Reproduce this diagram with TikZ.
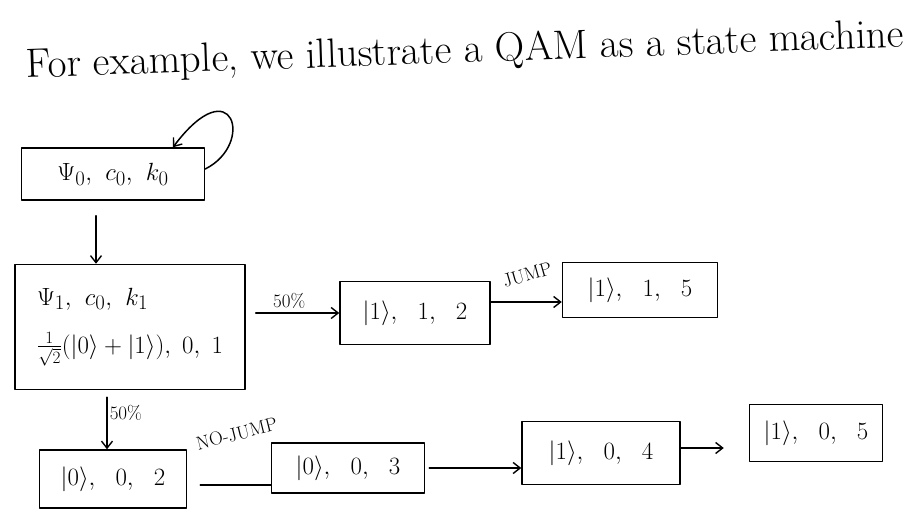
\documentclass[tikz,border=0pt]{standalone}
\usepackage{amsmath}
\usetikzlibrary{arrows.meta}
\newcommand{\sep}{,\ \;}
\begin{document}
\begin{tikzpicture}[x=1pt,y=-1pt,
  ink/.style={line width=1.5pt, line cap=round, line join=round},
  statebox/.style={ink, draw, inner sep=0pt, font=\fontsize{30}{36}\selectfont},
  arr/.style={ink, -{Straight Barb[length=7pt,width=11pt,line width=1.4pt]}},
  lbl/.style={font=\fontsize{19}{22}\selectfont, inner sep=2pt},
  heading/.style={font=\fontsize{41}{48}\selectfont, inner sep=0pt}
]
% canvas
\fill[white] (0,0) rectangle (922,518);
\useasboundingbox (0,0) rectangle (922,518);

% heading
\node[heading, rotate=2] (title) at (465,52) {For example, we illustrate a QAM as a state machine};

% states
\node[statebox, minimum width=183pt, minimum height=52pt] (s0) at (113,174) {$\Psi_0,\ c_0,\ k_0$};
\node[statebox, minimum width=230pt, minimum height=125pt, align=left] (s1) at (130,327)
  {$\Psi_1,\ c_0,\ k_1$\\[12pt] {\fontsize{23}{27}\selectfont $\tfrac{1}{\sqrt{2}}(|0\rangle+|1\rangle),\ 0,\ 1$}};
\node[statebox, minimum width=150pt, minimum height=63pt] (s2) at (415,313) {$|1\rangle\sep 1\sep 2$};
\node[statebox, minimum width=155pt, minimum height=55pt] (s3) at (640,290) {$|1\rangle\sep 1\sep 5$};
\node[statebox, minimum width=147pt, minimum height=58pt] (s4) at (113,479) {$|0\rangle\sep 0\sep 2$};
\node[statebox, minimum width=153pt, minimum height=50pt] (s5) at (348,468) {$|0\rangle\sep 0\sep 3$};
\node[statebox, minimum width=158pt, minimum height=63pt] (s6) at (601,453) {$|1\rangle\sep 0\sep 4$};
\node[statebox, minimum width=133pt, minimum height=57pt] (s7) at (816,433) {$|1\rangle\sep 0\sep 5$};

% transitions
\draw[arr] ([yshift=5pt]s0.east) .. controls +(50,-25) and +(60,-80) .. ([xshift=60pt]s0.north);
\draw[arr] ([xshift=-17pt,yshift=-15pt]s0.south) -- ([xshift=-34pt]s1.north);
\draw[arr] ([xshift=10pt]s2.west -| s1.east) -- node[lbl, pos=0.4, above=2pt] {50\%} (s2.west);
\draw[arr] ([yshift=11pt]s2.east) -- node[lbl, pos=0.55, above=18pt, rotate=16] {JUMP} ([yshift=-12pt]s3.west);
\draw[arr] ([xshift=-6pt,yshift=52pt]s4.north) -- node[lbl, pos=0.3, right] {50\%} ([xshift=-6pt]s4.north);
\draw[ink] ([xshift=13pt,yshift=-6pt]s4.east) -- node[lbl, pos=0.55, above=42pt, rotate=14] {NO-JUMP} ([yshift=-17pt]s5.west);
\draw[arr] ([xshift=4pt]s5.east) -- (s6.west |- s5.east);
\draw[arr] ([yshift=5pt]s6.east) -- ([xshift=-25pt,yshift=-15pt]s7.west);
\end{tikzpicture}
\end{document}
